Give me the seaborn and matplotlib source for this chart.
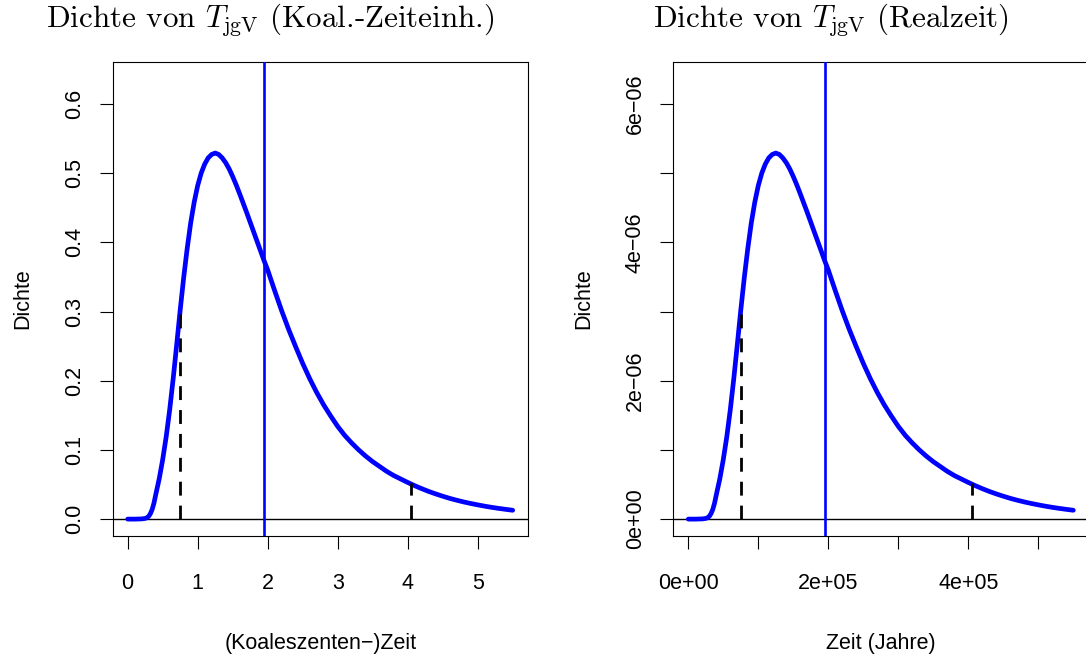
import matplotlib
matplotlib.use("Agg")
import matplotlib.pyplot as plt
from matplotlib.ticker import FixedLocator, FixedFormatter
import seaborn as sns

# ---- data (coalescent time units) ----
coal_time = [0.0, 0.1, 0.2, 0.25, 0.275, 0.3, 0.325, 0.35, 0.375, 0.4, 0.45, 0.5,
             0.55, 0.6, 0.65, 0.7, 0.75, 0.8, 0.85, 0.9, 0.95, 1.0, 1.05, 1.1,
             1.15, 1.2, 1.25, 1.3, 1.35, 1.4, 1.45, 1.5, 1.55, 1.6, 1.65, 1.7,
             1.75, 1.8, 1.85, 1.9, 1.95, 2.0, 2.1, 2.2, 2.3, 2.4, 2.5, 2.6, 2.7,
             2.8, 2.9, 3.0, 3.1, 3.2, 3.3, 3.4, 3.5, 3.6, 3.7, 3.8, 3.9, 4.0, 4.1,
             4.2, 4.3, 4.4, 4.5, 4.6, 4.7, 4.8, 4.9, 5.0, 5.1, 5.2, 5.3, 5.4, 5.5]
density = [0.0, 0.0, 0.0003, 0.001, 0.002, 0.004, 0.008, 0.014, 0.023, 0.035, 0.058,
           0.086, 0.119, 0.158, 0.203, 0.252, 0.302, 0.349, 0.391, 0.428, 0.458,
           0.482, 0.500, 0.513, 0.522, 0.527, 0.529, 0.527, 0.522, 0.515, 0.506,
           0.495, 0.483, 0.470, 0.4565, 0.443, 0.429, 0.415, 0.401, 0.387, 0.373,
           0.360, 0.330, 0.301, 0.274, 0.249, 0.225, 0.203, 0.183, 0.165, 0.149,
           0.134, 0.121, 0.110, 0.100, 0.091, 0.083, 0.076, 0.069, 0.063, 0.058,
           0.053, 0.0483, 0.0440, 0.0400, 0.0364, 0.0331, 0.0300, 0.0273, 0.0248,
           0.0226, 0.0206, 0.0187, 0.0170, 0.0155, 0.0141, 0.0128]
mean_time = 1.951
q_low, q_high = 0.747, 4.047
dens_q_low, dens_q_high = 0.302, 0.052

years_per_unit = 1e5          # conversion coalescent units -> years

titles = [r"Dichte von $T_{\mathrm{jgV}}$ (Koal.-Zeiteinh.)",
          r"Dichte von $T_{\mathrm{jgV}}$ (Realzeit)"]
xlabels = ["(Koaleszenten\u2212)Zeit", "Zeit (Jahre)"]
ylabel = "Dichte"

left_xticks = [0, 1, 2, 3, 4, 5]
left_xticklabels = ["0", "1", "2", "3", "4", "5"]
left_yticks = [0.0, 0.1, 0.2, 0.3, 0.4, 0.5, 0.6]
left_yticklabels = ["0.0", "0.1", "0.2", "0.3", "0.4", "0.5", "0.6"]
right_xticks = [0, 1e5, 2e5, 3e5, 4e5, 5e5]
right_xticklabels = ["0e+00", "", "2e+05", "", "4e+05", ""]
right_yticks = [0, 1e-6, 2e-6, 3e-6, 4e-6, 5e-6, 6e-6]
right_yticklabels = ["0e+00", "", "2e\u221206", "", "4e\u221206", "", "6e\u221206"]

# ---- style ----
sns.set_style("white")
plt.rcParams["font.family"] = ["Liberation Sans", "DejaVu Sans"]
plt.rcParams["mathtext.fontset"] = "cm"

W, H = 1086, 659
fig = plt.figure(figsize=(W / 100, H / 100), dpi=100)


def rect(l, t, r, b):
    return [l / W, 1 - b / H, (r - l) / W, (b - t) / H]


ax1 = fig.add_axes(rect(112.7, 61.7, 528.3, 536))
ax2 = fig.add_axes(rect(673.3, 61.7, 1089, 536))

BLUE = "#0000ff"


def panel(ax, xs, ys, mean, ql, qh, dl, dh, xt, xtl, yt, ytl, xlim, ylim, title, xlabel):
    ax.axhline(0, color="black", lw=1.0, zorder=1)
    sns.lineplot(x=xs, y=ys, ax=ax, color=BLUE, lw=3.4, solid_capstyle="round",
                 solid_joinstyle="round", zorder=2, estimator=None)
    ax.axvline(mean, color=BLUE, lw=1.9, zorder=3)
    ax.vlines([ql, qh], [0, 0], [dl, dh], colors="black", lw=2.0,
              linestyles=(0, (5, 3.6)), zorder=4)
    ax.set_xlim(*xlim)
    ax.set_ylim(*ylim)
    ax.xaxis.set_major_locator(FixedLocator(xt))
    ax.xaxis.set_major_formatter(FixedFormatter(xtl))
    ax.yaxis.set_major_locator(FixedLocator(yt))
    ax.yaxis.set_major_formatter(FixedFormatter(ytl))
    ax.tick_params(bottom=True, left=True, top=False, right=False,
                   direction="out", length=9.7, width=0.8, color="black",
                   labelsize=15.5, labelcolor="black")
    ax.tick_params(axis="x", pad=17)
    ax.tick_params(axis="y", pad=10, labelrotation=90)
    for lab in ax.get_yticklabels():
        lab.set_va("center")
    for s in ax.spines.values():
        s.set_color("black")
        s.set_linewidth(0.8)
        s.set_visible(True)
    ax.set_xlabel(xlabel, fontsize=15.5, color="black")
    ax.set_ylabel(ylabel, fontsize=15.5, color="black")
    ax.xaxis.set_label_coords(0.5, -0.2045)
    ax.yaxis.set_label_coords(-0.19, 0.5)
    ax.text(0.38, 1.071, title, transform=ax.transAxes, ha="center", va="baseline",
            fontsize=22.4, fontfamily="cmr10", color="black")
    ax.grid(False)


yscale = 1.0 / years_per_unit
panel(ax1, coal_time, density, mean_time, q_low, q_high, dens_q_low, dens_q_high,
      left_xticks, left_xticklabels, left_yticks, left_yticklabels,
      (-0.214, 5.723), (-0.0244, 0.661), titles[0], xlabels[0])

panel(ax2, [t * years_per_unit for t in coal_time], [d * yscale for d in density],
      mean_time * years_per_unit, q_low * years_per_unit, q_high * years_per_unit,
      dens_q_low * yscale, dens_q_high * yscale,
      right_xticks, right_xticklabels, right_yticks, right_yticklabels,
      (-0.214 * years_per_unit, 5.724 * years_per_unit),
      (-0.0244 * yscale, 0.661 * yscale), titles[1], xlabels[1])

fig.savefig("out.png", dpi=100, facecolor="white")
